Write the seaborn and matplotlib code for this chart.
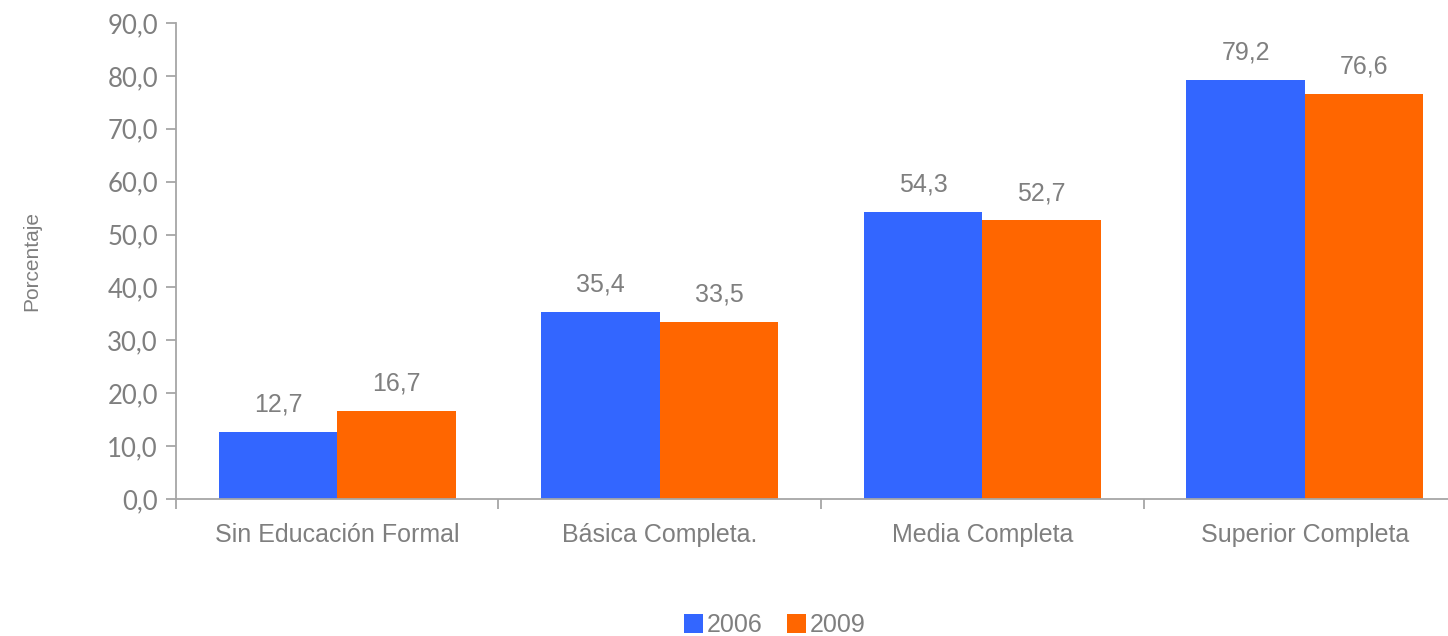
import pandas as pd
import numpy as np
import seaborn as sns
from matplotlib import pyplot as plt
from matplotlib.ticker import FuncFormatter, FixedLocator

# datos
categorias = ['Sin Educación Formal', 'Básica Completa.', 'Media Completa', 'Superior Completa']
anios = ['2006', '2009']
valores_2006 = [12.7, 35.4, 54.3, 79.2]
valores_2009 = [16.7, 33.5, 52.7, 76.6]

df = pd.DataFrame({
    'Categoria': categorias * 2,
    'Anio': [anios[0]] * 4 + [anios[1]] * 4,
    'Valor': valores_2006 + valores_2009,
})

sns.set_style("white")
plt.rcParams['font.family'] = ['Liberation Sans', 'DejaVu Sans']

GRIS = '#7f7f7f'
LINEA = '#a6a6a6'
colores = {'2006': '#3366FF', '2009': '#FF6600'}

fig = plt.figure(figsize=(14.48, 6.36), dpi=100)
ax = fig.add_axes([0.1215, 0.2154, 0.891, 0.7484])

sns.barplot(data=df, x='Categoria', y='Valor', hue='Anio', palette=colores,
            width=0.734, saturation=1, linewidth=0, ax=ax, legend=True)

for cont in ax.containers:
    etiquetas = [f"{b.get_height():.1f}".replace('.', ',') for b in cont]
    ax.bar_label(cont, labels=etiquetas, padding=11, fontsize=18, color=GRIS)

ax.set_ylim(0, 90)
ax.set_xlim(-0.5, 3.5)
ax.yaxis.set_major_locator(FixedLocator(np.arange(0, 91, 10)))
ax.yaxis.set_major_formatter(FuncFormatter(lambda v, p: f"{v:.1f}".replace('.', ',')))
for t in ax.get_yticklabels():
    t.set_fontfamily(['Lato', 'DejaVu Sans'])

# ticks del eje x entre grupos
ax.set_xticks(np.arange(-0.5, 4.0, 1.0))
ax.set_xticklabels([])
ax.set_xticks(range(4), minor=True)
ax.set_xticklabels(categorias, minor=True, fontsize=18, color=GRIS)
ax.tick_params(axis='x', which='minor', length=0, pad=17)
ax.tick_params(axis='x', which='major', length=7, width=1.3, color=LINEA, direction='out', bottom=True)
ax.tick_params(axis='y', length=7, width=1.3, color=LINEA, direction='out', left=True,
               labelsize=18.5, labelcolor=GRIS, pad=6)

for s in ['top', 'right']:
    ax.spines[s].set_visible(False)
for s in ['left', 'bottom']:
    ax.spines[s].set_color(LINEA)
    ax.spines[s].set_linewidth(1.3)

ax.set_xlabel('')
ax.set_ylabel('Porcentaje', fontsize=15, color=GRIS, labelpad=0)
ax.yaxis.set_label_coords(-0.1045, 0.5)

ax.legend(loc='center', bbox_to_anchor=(0.535, 0.017), bbox_transform=fig.transFigure,
          ncol=2, frameon=False, fontsize=18, labelcolor=GRIS, handlelength=0.75,
          handleheight=0.75, handletextpad=0.15, columnspacing=1.0)

plt.savefig('out.png', dpi=100)
